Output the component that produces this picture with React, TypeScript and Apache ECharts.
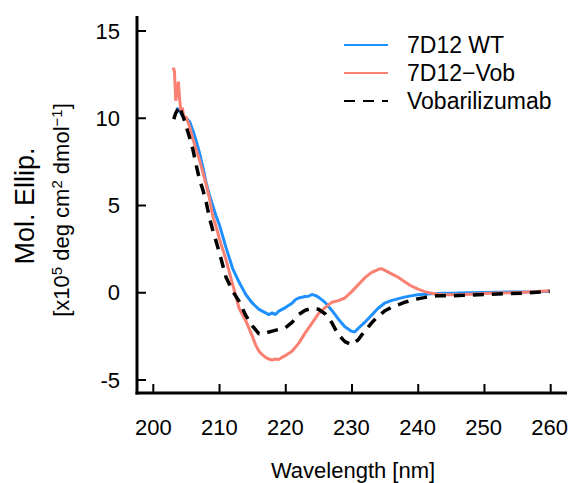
import React, { useEffect, useRef } from "react";
import * as echarts from "echarts";

const seriesNames = ["7D12 WT", "7D12\u2212Vob", "Vobarilizumab"];

const wtX = [203.5,204,204.5,205,205.5,206,206.5,207,207.5,208,208.5,209,209.5,210,211,212,213,214,215,216,217,217.5,218,218.5,219,220,221,221.5,222,223,223.5,224,224.5,225,226,227,228,229,230,230.5,231,232,233,234,235,236,237,238,239,240,242,244,246,248,250,252,254,256,258,260];
const wtY = [10.6,10.4,10.1,10.0,9.8,9.3,8.7,8.0,7.2,6.3,5.6,5.0,4.4,3.9,2.6,1.4,0.6,-0.1,-0.6,-0.95,-1.15,-1.25,-1.15,-1.25,-1.05,-0.85,-0.6,-0.4,-0.3,-0.22,-0.2,-0.1,-0.15,-0.25,-0.55,-1.0,-1.5,-1.95,-2.2,-2.25,-2.05,-1.7,-1.3,-0.9,-0.6,-0.45,-0.35,-0.25,-0.18,-0.12,-0.06,-0.03,-0.02,0.0,0.02,0.03,0.04,0.05,0.06,0.08];

const vobX = [203,203.2,203.4,203.6,203.8,204,204.2,204.4,204.6,205,205.5,206,206.5,207,207.5,208,208.5,209,209.5,210,211,212,213,214,215,215.5,216,216.5,217,217.5,218,218.5,219,219.5,220,221,222,223,224,225,226,227,227.5,228,229,230,231,232,233,234,234.5,235,236,237,238,239,240,241,242,243,244,246,248,250,252,254,256,258,260];
const vobY = [12.9,12.7,11.0,11.5,12.1,11.0,10.4,10.6,10.1,10.05,9.5,8.8,8.2,7.6,6.9,6.2,5.4,4.4,3.8,3.1,1.9,0.5,-0.9,-1.6,-2.5,-3.0,-3.35,-3.55,-3.7,-3.8,-3.85,-3.8,-3.82,-3.7,-3.6,-3.35,-2.9,-2.3,-1.75,-1.2,-0.85,-0.55,-0.5,-0.45,-0.3,0.05,0.45,0.85,1.15,1.33,1.38,1.3,1.1,0.9,0.65,0.4,0.22,0.08,-0.02,-0.08,-0.12,-0.12,-0.08,-0.05,-0.02,0.0,0.03,0.07,0.12];

const vobaX = [203.1,203.4,203.7,204,204.3,204.6,205,205.5,206,206.5,207,207.5,208,208.5,209,210,211,212,213,214,215,216,217,218,219,220,221,222,223,224,225,226,227,228,229,230,231,232,233,234,235,236,237,238,239,240,241,242,243,245,247,250,253,256,258,260];
const vobaY = [9.95,10.3,10.5,10.7,10.3,10.0,9.5,8.9,8.2,7.3,6.5,5.9,5.2,4.3,3.6,2.3,0.9,0.1,-0.5,-1.3,-1.9,-2.35,-2.3,-2.2,-2.1,-2.0,-1.7,-1.25,-1.0,-0.9,-0.95,-1.2,-1.7,-2.4,-2.8,-2.98,-2.7,-2.2,-1.75,-1.35,-1.05,-0.85,-0.7,-0.55,-0.45,-0.35,-0.28,-0.2,-0.17,-0.17,-0.15,-0.1,-0.06,-0.02,0.03,0.08];

const xTickValues = [200, 210, 220, 230, 240, 250, 260];
const yTickValues = [-5, 0, 5, 10, 15];

const pairs = (xs: number[], ys: number[]) => xs.map((x, i) => [x, ys[i]]);

const FONT = "'Liberation Sans', Arial, Helvetica, sans-serif";
const W = 571;
const H = 483;
const GRID = { left: 153.3, right: 20.3, top: 31, bottom: 103 };
const AXIS_X = 137; // y-axis line position (px)
const AXIS_Y = 393; // x-axis line position (px)
const TICK = 9;

export default function App() {
  const ref = useRef<HTMLDivElement>(null);
  useEffect(() => {
    if (!ref.current) return;
    const chart = echarts.init(ref.current, null, { renderer: "svg" });
    const xMin = xTickValues[0];
    const xMax = xTickValues[xTickValues.length - 1];
    const yMin = yTickValues[0];
    const yMax = yTickValues[yTickValues.length - 1];
    const gw = W - GRID.left - GRID.right;
    const gh = H - GRID.top - GRID.bottom;
    const xPix = (v: number) => GRID.left + ((v - xMin) / (xMax - xMin)) * gw;
    const yPix = (v: number) => GRID.top + ((yMax - v) / (yMax - yMin)) * gh;

    const graphic: any[] = [
      { type: "rect", z: 10, shape: { x: AXIS_X - 1.5, y: 16, width: 3, height: AXIS_Y + 1.5 - 16 }, style: { fill: "#000" } },
      { type: "rect", z: 10, shape: { x: AXIS_X - 1.5, y: AXIS_Y - 1.5, width: 567 - AXIS_X + 1.5, height: 3 }, style: { fill: "#000" } },
      {
        type: "text",
        x: 353,
        y: 470,
        style: { text: "Wavelength [nm]", fontSize: 22, fontFamily: FONT, fill: "#000", align: "center", verticalAlign: "middle" },
      },
      {
        type: "text",
        x: 25,
        y: 206,
        rotation: Math.PI / 2,
        style: { text: "Mol. Ellip.", fontSize: 27, fontFamily: FONT, fill: "#000", align: "center", verticalAlign: "middle" },
      },
      {
        type: "text",
        x: 61,
        y: 210,
        rotation: Math.PI / 2,
        style: {
          text: "[x10{sup|5} deg cm{sup|2} dmol{sup|\u22121}]",
          fontSize: 22,
          fontFamily: FONT,
          fill: "#000",
          align: "center",
          verticalAlign: "middle",
          rich: {
            sup: { fontSize: 15, fontFamily: FONT, fill: "#000", verticalAlign: "top", lineHeight: 24 },
          },
        },
      },
    ];
    xTickValues.forEach((v) => {
      const px = xPix(v);
      graphic.push({ type: "rect", z: 10, shape: { x: px - 1, y: AXIS_Y - TICK, width: 2, height: TICK }, style: { fill: "#000" } });
    });
    yTickValues.forEach((v) => {
      const py = yPix(v);
      graphic.push({ type: "rect", z: 10, shape: { x: AXIS_X, y: py - 1, width: TICK, height: 2 }, style: { fill: "#000" } });
    });

    chart.setOption({
      animation: false,
      backgroundColor: "#ffffff",
      textStyle: { fontFamily: FONT },
      grid: { ...GRID, containLabel: false },
      legend: {
        orient: "vertical",
        left: 343,
        top: 33,
        padding: 0,
        itemWidth: 44,
        itemHeight: 14,
        itemGap: 4,
        data: seriesNames,
        itemStyle: { opacity: 0 },
        textStyle: { fontSize: 23, color: "#000", lineHeight: 24, padding: [0, 0, 0, 14], fontFamily: FONT },
      },
      xAxis: {
        type: "value",
        min: xMin,
        max: xMax,
        interval: 10,
        offset: 13,
        axisLine: { show: false, onZero: false },
        axisTick: { show: false },
        axisLabel: { fontSize: 22, color: "#000", margin: 23, fontFamily: FONT },
        splitLine: { show: false },
      },
      yAxis: {
        type: "value",
        min: yMin,
        max: yMax,
        interval: 5,
        offset: 16.3,
        axisLine: { show: false, onZero: false },
        axisTick: { show: false },
        axisLabel: { fontSize: 22, color: "#000", margin: 17, fontFamily: FONT },
        splitLine: { show: false },
      },
      graphic: graphic,
      series: [
        {
          name: seriesNames[0],
          type: "line",
          data: pairs(wtX, wtY),
          symbol: "none",
          z: 2,
          lineStyle: { color: "#1E90FF", width: 3 },
          itemStyle: { color: "#1E90FF" },
        },
        {
          name: seriesNames[1],
          type: "line",
          data: pairs(vobX, vobY),
          symbol: "none",
          z: 3,
          lineStyle: { color: "#FA8072", width: 3 },
          itemStyle: { color: "#FA8072" },
        },
        {
          name: seriesNames[2],
          type: "line",
          data: pairs(vobaX, vobaY),
          symbol: "none",
          z: 4,
          lineStyle: { color: "#000", width: 3.5, type: [11, 8] },
          itemStyle: { color: "#000" },
        },
      ],
    });
    return () => chart.dispose();
  }, []);
  return <div ref={ref} style={{ width: W, height: H, position: "absolute", left: 0, top: 0 }} />;
}
